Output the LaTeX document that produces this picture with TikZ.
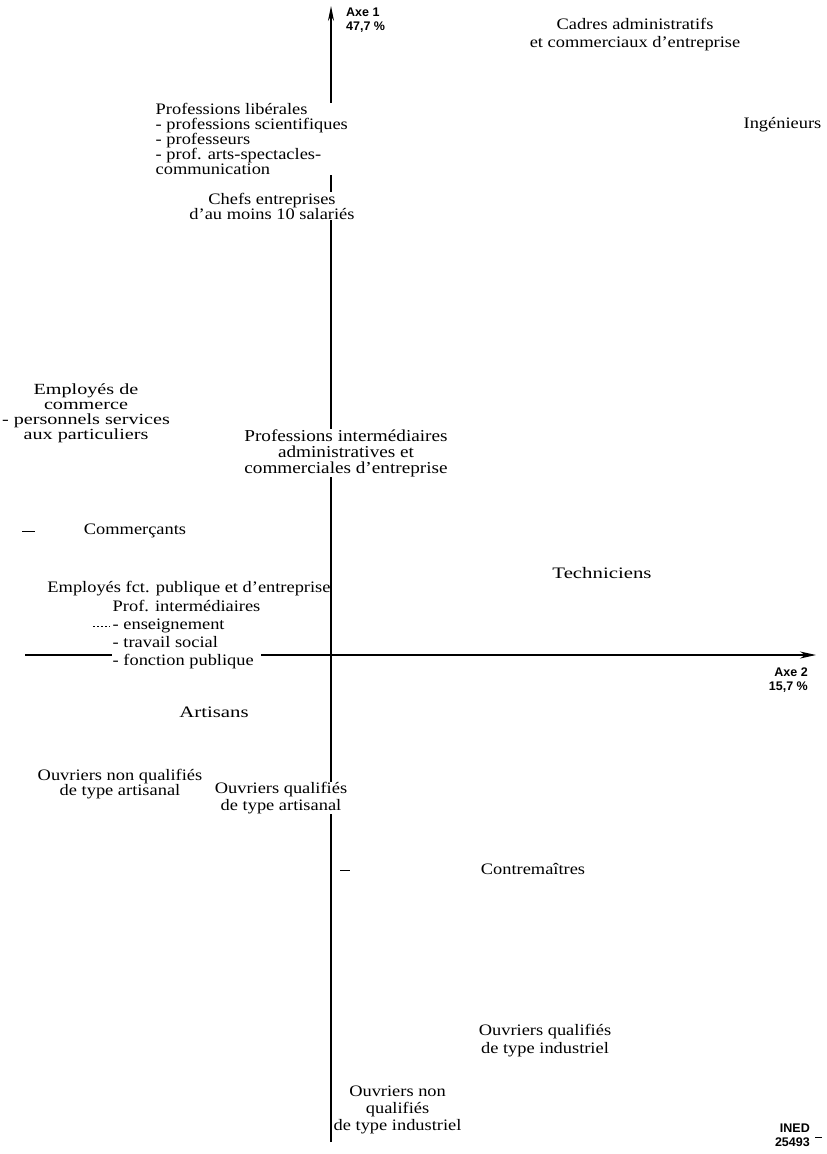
\documentclass[tikz,border=0pt]{standalone}
\usepackage{fontspec}
\setmainfont[FakeStretch=1.15]{Liberation Serif}
\newfontfamily\axfont{Liberation Sans}
\newfontfamily\widefont[FakeStretch=1.3]{Liberation Serif}
\usetikzlibrary{arrows.meta}
\begin{document}
\begin{tikzpicture}[x=1pt,y=-1pt,
  lbl/.style={font=\fontsize{16}{15}\selectfont, align=center, inner sep=0.5pt, fill=white},
  axlbl/.style={font=\axfont\bfseries\fontsize{12.5}{14}\selectfont, inner sep=0pt},
  axisline/.style={line width=1.2pt},
  speck/.style={line width=0.8pt}]
\useasboundingbox (0,0) rectangle (827,1154);
% axes
\coordinate (vtop) at (331,6);
\coordinate (vbot) at (331,1142);
\coordinate (hleft) at (25,655);
\coordinate (hright) at (816,655);
\draw[axisline,-{Stealth[length=15pt,width=6pt]}] (vbot) -- (vtop);
\draw[axisline,-{Stealth[length=16pt,width=7pt,inset=5pt]}] (hleft) -- (hright);
% labels
\node[axlbl, align=left, anchor=west] (axe1) at (346,20) {Axe 1\\47,7 \%};
\node[lbl, font=\fontsize{16}{18}\selectfont] (cadres) at (635,35) {Cadres administratifs\\et commerciaux d'entreprise};
\node[lbl, anchor=east] (ing) at (822,125) {Ingénieurs};
\node[lbl, align=left, anchor=west] (plib) at (155,139) {Professions libérales\\- professions scientifiques\\- professeurs\\- prof. arts-spectacles-\\communication};
\node[lbl] (chefs) at (272,206) {Chefs entreprises\\d'au moins 10 salariés};
\node[lbl, font=\widefont\fontsize{15.5}{15}\selectfont] (empcom) at (86,413) {Employés de\\commerce\\- personnels services\\aux particuliers};
\node[lbl, font=\fontsize{16.7}{16}\selectfont] (profint) at (346,453) {Professions intermédiaires\\administratives et\\commerciales d'entreprise};
\node[lbl] (comm) at (135,531) {Commerçants};
\node[lbl, font=\widefont\fontsize{16}{15}\selectfont] (techn) at (602,573) {Techniciens};
\node[lbl, fill=none] (empfct) at (189,589) {Employés fct. publique et d'entreprise};
\node[lbl, align=left, anchor=west, font=\fontsize{16}{18}\selectfont] (profint2) at (112,635) {Prof. intermédiaires\\- enseignement\\- travail social\\- fonction publique};
\node[axlbl, align=right, anchor=east] (axe2) at (808,680) {Axe 2\\15,7 \%};
\node[lbl, font=\widefont\fontsize{16}{15}\selectfont] (artis) at (214,712) {Artisans};
\node[lbl] (onqa) at (120,784) {Ouvriers non qualifiés\\de type artisanal};
\node[lbl, font=\fontsize{16}{17}\selectfont] (oqa) at (281,798) {Ouvriers qualifiés\\de type artisanal};
\node[lbl] (contre) at (533,869) {Contremaîtres};
\node[lbl, font=\fontsize{16}{18}\selectfont] (oqi) at (545,1041) {Ouvriers qualifiés\\de type industriel};
\node[lbl, fill=none, anchor=west, font=\fontsize{16}{17}\selectfont] (onqi) at (333,1110) {Ouvriers non\\qualifiés\\de type industriel};
\node[axlbl, align=right, anchor=east] (ined) at (810,1135) {INED\\25493};
% small marks
\coordinate (m1a) at (22,531); \coordinate (m1b) at (35,531);
\draw[speck] (m1a) -- (m1b);
\coordinate (m2a) at (93,626); \coordinate (m2b) at (110,626);
\draw[speck, dash pattern=on 2pt off 2pt] (m2a) -- (m2b);
\coordinate (m3a) at (340,870); \coordinate (m3b) at (350,870);
\draw[speck] (m3a) -- (m3b);
\coordinate (m4a) at (815,1137); \coordinate (m4b) at (822,1137);
\draw[speck] (m4a) -- (m4b);
\end{tikzpicture}
\end{document}
